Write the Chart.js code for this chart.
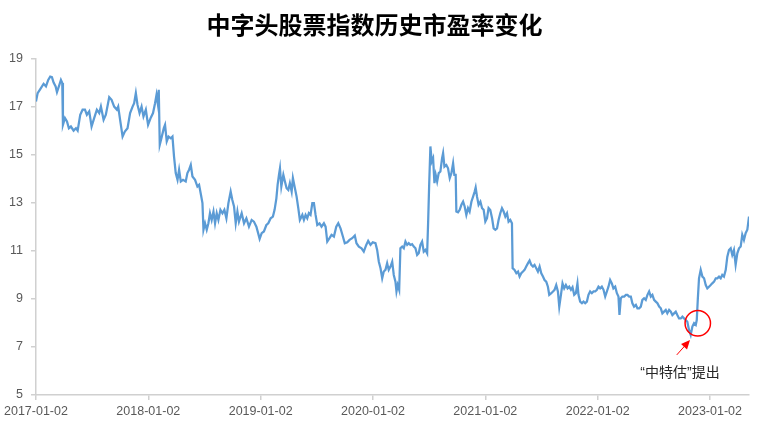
<!DOCTYPE html>
<html>
<head>
<meta charset="utf-8">
<script src="https://cdn.jsdelivr.net/npm/chart.js@4.4.1/dist/chart.umd.min.js"></script>
<style>
  html, body { margin: 0; padding: 0; background: #fff; }
  #wrap { width: 764px; height: 429px; }
</style>
</head>
<body>
<div id="wrap"><canvas id="peChart"></canvas></div>
<script>
// x positions in years since 2017-01-02
const xYears = [
  0.000,0.015,0.044,0.068,0.089,0.109,0.127,0.142,0.157,0.175,0.187,0.204,0.222,0.234,0.240,0.258,0.276,0.293,0.311,0.335,0.356,0.371,0.394,0.415,0.436,0.453,0.474,0.495,0.518,0.542,0.563,0.578,0.602,0.622,0.652,0.673,0.696,0.720,0.732,0.749,0.771,0.791,0.815,0.838,0.860,0.874,0.889,0.904,0.922,0.940,0.957,0.978,0.998,
  1.022,1.042,1.060,1.073,1.084,1.093,1.102,1.120,1.138,1.149,1.164,1.180,1.200,1.215,1.229,1.244,1.260,1.274,1.289,1.309,1.333,1.348,1.363,1.378,1.393,1.416,1.437,1.452,1.469,1.482,1.491,1.505,1.520,1.535,1.549,1.564,1.580,1.594,1.609,1.624,1.642,1.660,1.677,1.695,1.713,1.733,1.748,1.763,1.778,1.793,1.807,1.831,1.852,1.873,1.896,1.920,1.940,1.962,1.980,1.991,
  2.009,2.029,2.051,2.068,2.089,2.109,2.124,2.140,2.151,2.163,2.172,2.184,2.202,2.216,2.231,2.246,2.260,2.276,2.287,2.305,2.320,2.335,2.349,2.371,2.385,2.400,2.415,2.429,2.444,2.460,2.474,2.489,2.504,2.524,2.542,2.563,2.578,2.593,2.613,2.631,2.652,2.673,2.691,2.711,2.732,2.749,2.771,2.791,2.815,2.838,2.853,2.874,2.898,2.918,2.940,2.957,2.978,2.998,
  3.022,3.037,3.052,3.067,3.082,3.096,3.111,3.126,3.140,3.156,3.171,3.185,3.200,3.209,3.220,3.233,3.244,3.260,3.274,3.289,3.304,3.318,3.333,3.348,3.363,3.378,3.393,3.407,3.422,3.437,3.452,3.467,3.482,3.491,3.500,3.511,3.523,3.535,3.547,3.558,3.571,3.585,3.600,3.615,3.624,3.636,3.653,3.668,3.683,3.698,3.713,3.724,3.736,3.742,3.757,3.772,3.787,3.802,3.816,3.831,3.846,3.860,3.876,3.891,3.905,3.914,3.926,3.940,3.956,3.971,3.985,
  4.000,4.015,4.029,4.044,4.060,4.074,4.089,4.104,4.118,4.133,4.148,4.163,4.178,4.193,4.207,4.222,4.237,4.243,4.260,4.276,4.291,4.305,4.320,4.335,4.349,4.364,4.380,4.394,4.409,4.424,4.438,4.453,4.468,4.483,4.498,4.513,4.527,4.542,4.557,4.569,4.587,4.602,4.616,4.631,4.646,4.658,4.673,4.687,4.702,4.717,4.732,4.747,4.762,4.776,4.791,4.806,4.820,4.829,4.844,4.860,4.874,4.889,4.904,4.918,4.933,4.948,4.963,4.978,4.993,
  5.007,5.022,5.037,5.052,5.067,5.082,5.096,5.111,5.126,5.140,5.156,5.171,5.185,5.194,5.206,5.220,5.236,5.251,5.265,5.280,5.295,5.309,5.324,5.340,5.354,5.369,5.384,5.398,5.413,5.428,5.443,5.458,5.473,5.487,5.502,5.517,5.532,5.547,5.562,5.576,5.591,5.606,5.620,5.636,5.651,5.665,5.680,5.695,5.709,5.724,5.740,5.754,5.769,5.784,5.798,5.813,5.828,5.843,5.858,5.873,5.882,5.891,5.902,5.917,5.932,5.947,5.962,5.976,5.991,
  6.006,6.020,6.036,6.051,6.065,6.080,6.095,6.109,6.124,6.140,6.154,6.169,6.184,6.198,6.213,6.228,6.243,6.258,6.273,6.287,6.302,6.317,6.332,6.347
];

// 市盈率 (PE)
const peValues = [
  17.22,17.57,17.78,17.96,17.85,18.12,18.26,18.24,18.01,17.85,17.61,17.85,18.12,17.99,16.25,16.53,16.39,16.11,16.18,16.01,16.11,16.01,16.67,16.88,16.88,16.67,16.81,16.18,16.53,16.88,16.74,17.01,16.46,16.67,17.40,17.29,17.01,16.88,17.01,16.46,15.76,15.97,16.11,16.74,17.01,17.15,17.57,17.08,16.74,17.01,16.60,16.88,16.25,
  16.55,16.74,17.15,17.50,17.15,17.71,15.42,15.76,16.11,16.25,15.56,15.76,15.69,15.76,14.93,14.24,13.96,14.38,13.89,13.96,13.89,14.24,14.38,14.58,14.10,13.96,13.68,13.75,13.33,12.99,11.88,12.15,11.88,12.15,12.57,12.29,12.64,12.15,12.57,12.29,12.71,12.57,12.71,12.36,12.99,13.47,13.12,12.85,12.15,12.64,12.22,12.57,12.15,12.36,12.01,12.29,12.22,12.01,11.70,11.50,
  11.74,11.81,12.08,12.15,12.36,12.43,12.71,13.19,13.75,14.17,14.44,13.68,14.17,13.89,13.61,13.54,13.82,13.47,14.03,13.61,13.26,12.78,12.29,12.50,12.29,12.50,12.36,12.57,12.50,12.99,12.99,12.50,12.08,12.15,12.01,12.15,12.01,11.39,11.53,11.67,11.60,12.01,12.15,11.94,11.60,11.32,11.36,11.46,11.53,11.64,11.32,11.18,11.11,10.97,11.25,11.42,11.25,11.36,
  11.32,11.04,10.55,10.28,9.86,10.14,10.21,10.49,10.21,10.35,10.55,10.00,9.72,9.31,9.58,9.38,11.11,11.18,11.11,11.39,11.25,11.32,11.25,11.28,11.18,11.11,10.83,10.90,11.25,11.39,10.97,11.04,10.90,12.22,13.75,15.35,14.72,14.86,13.82,14.17,13.89,14.24,14.31,14.86,15.07,14.51,14.58,14.44,14.03,14.24,14.65,14.17,14.17,12.64,12.61,12.71,12.92,13.05,12.85,12.50,12.78,12.64,13.05,13.26,13.47,13.64,13.26,12.92,13.05,12.78,12.71,
  12.22,12.36,12.78,12.70,12.36,11.94,11.88,11.94,12.29,12.57,12.78,12.64,12.43,12.57,12.22,12.29,12.15,10.28,10.21,10.07,10.14,9.93,10.07,10.14,10.21,10.35,10.49,10.60,10.42,10.35,10.42,10.28,10.14,10.35,10.07,9.93,9.79,9.72,9.51,9.17,9.24,9.31,9.38,9.58,9.31,8.68,9.17,9.65,9.44,9.58,9.44,9.51,9.38,9.49,9.17,9.24,9.65,9.17,8.89,8.82,8.89,8.82,8.89,9.17,9.31,9.24,9.31,9.31,9.38,
  9.51,9.44,9.51,9.38,9.10,9.31,9.51,9.79,9.65,9.44,9.51,9.24,9.10,8.33,9.03,9.10,9.10,9.17,9.17,9.10,9.10,8.82,8.68,8.75,8.61,8.61,8.68,8.96,9.03,8.96,9.17,9.31,9.10,9.17,8.96,8.89,8.82,8.68,8.61,8.40,8.47,8.54,8.40,8.54,8.47,8.33,8.40,8.47,8.33,8.19,8.19,8.26,8.19,8.12,8.05,7.71,7.50,7.85,7.99,7.92,8.12,8.96,9.86,10.21,9.93,9.86,9.58,9.44,9.51,
  9.58,9.65,9.72,9.86,9.86,9.93,9.86,10.00,9.93,10.21,10.76,11.04,11.11,10.83,11.04,10.42,10.90,11.11,11.18,11.67,11.46,11.74,11.88,12.43
];

const tickLabels = ["2017-01-02", "2018-01-02", "2019-01-02", "2020-01-02", "2021-01-02", "2022-01-02", "2023-01-02"];

const axisColor = "#d0d0d0";
const labelColor = "#595959";
const tickFont = { family: "'Liberation Sans', Arial, sans-serif", size: 12.5 };

// red circle + arrow + note for "中特估"
const noteText = "\u201c中特估\u201d提出";
const notePlugin = {
  id: "note",
  afterDatasetsDraw(chart) {
    const { ctx } = chart;
    const xs = chart.scales.x;
    const ys = chart.scales.y;
    ctx.save();
    // circle
    ctx.strokeStyle = "#ff0000";
    ctx.lineWidth = 1.5;
    ctx.beginPath();
    ctx.arc(xs.getPixelForValue(5.891), ys.getPixelForValue(7.99), 12.7, 0, Math.PI * 2);
    ctx.stroke();
    // arrow
    const x1 = xs.getPixelForValue(5.704), y1 = ys.getPixelForValue(6.67);
    const x2 = xs.getPixelForValue(5.822), y2 = ys.getPixelForValue(7.29);
    const ang = Math.atan2(y2 - y1, x2 - x1);
    ctx.lineWidth = 1;
    ctx.beginPath();
    ctx.moveTo(x1, y1);
    ctx.lineTo(x2 - 6 * Math.cos(ang), y2 - 6 * Math.sin(ang));
    ctx.stroke();
    ctx.fillStyle = "#ff0000";
    ctx.beginPath();
    ctx.moveTo(x2, y2);
    ctx.lineTo(x2 - 9 * Math.cos(ang) + 4 * Math.sin(ang), y2 - 9 * Math.sin(ang) - 4 * Math.cos(ang));
    ctx.lineTo(x2 - 9 * Math.cos(ang) - 4 * Math.sin(ang), y2 - 9 * Math.sin(ang) + 4 * Math.cos(ang));
    ctx.closePath();
    ctx.fill();
    // text
    ctx.fillStyle = "#262626";
    ctx.font = "14px 'Liberation Sans', 'Noto Sans CJK SC', sans-serif";
    ctx.textAlign = "center";
    ctx.textBaseline = "middle";
    ctx.fillText(noteText, xs.getPixelForValue(5.733), ys.getPixelForValue(5.92));
    ctx.restore();
  },
};

const ctx = document.getElementById("peChart").getContext("2d");
new Chart(ctx, {
  type: "line",
  data: {
    datasets: [
      {
        label: "市盈率",
        data: xYears.map((x, i) => ({ x: x, y: peValues[i] })),
        borderColor: "#5b9bd5",
        borderWidth: 2.25,
        pointRadius: 0,
        tension: 0,
        fill: false,
      },
    ],
  },
  options: {
    responsive: true,
    maintainAspectRatio: false,
    animation: false,
    layout: { padding: { left: 0, right: 15, top: 0, bottom: 0 } },
    plugins: {
      legend: { display: false },
      tooltip: { enabled: false },
      title: {
        display: true,
        text: "中字头股票指数历史市盈率变化",
        color: "#000",
        font: { family: "'Noto Sans CJK SC', sans-serif", size: 24, weight: "bold" },
        padding: { top: 10, bottom: 20 },
      },
    },
    scales: {
      x: {
        type: "linear",
        min: 0,
        max: 6.347,
        afterBuildTicks: (scale) => {
          scale.ticks = tickLabels.map((_, i) => ({ value: i }));
        },
        afterFit: (scale) => {
          scale.height = 34;
        },
        ticks: {
          callback: (value) => tickLabels[value],
          color: labelColor,
          font: tickFont,
          padding: 4,
          maxRotation: 0,
          autoSkip: false,
        },
        grid: { drawOnChartArea: false, drawTicks: true, tickLength: 5, color: axisColor, lineWidth: 1.5 },
        border: { color: axisColor, width: 1.5 },
      },
      y: {
        min: 5,
        max: 19,
        afterFit: (scale) => {
          scale.width = 35;
        },
        ticks: {
          stepSize: 2,
          color: labelColor,
          font: tickFont,
          padding: 8,
        },
        grid: { drawOnChartArea: false, drawTicks: true, tickLength: 5, color: axisColor, lineWidth: 1.5 },
        border: { color: axisColor, width: 1.5 },
      },
    },
  },
  plugins: [notePlugin],
});
</script>
</body>
</html>
